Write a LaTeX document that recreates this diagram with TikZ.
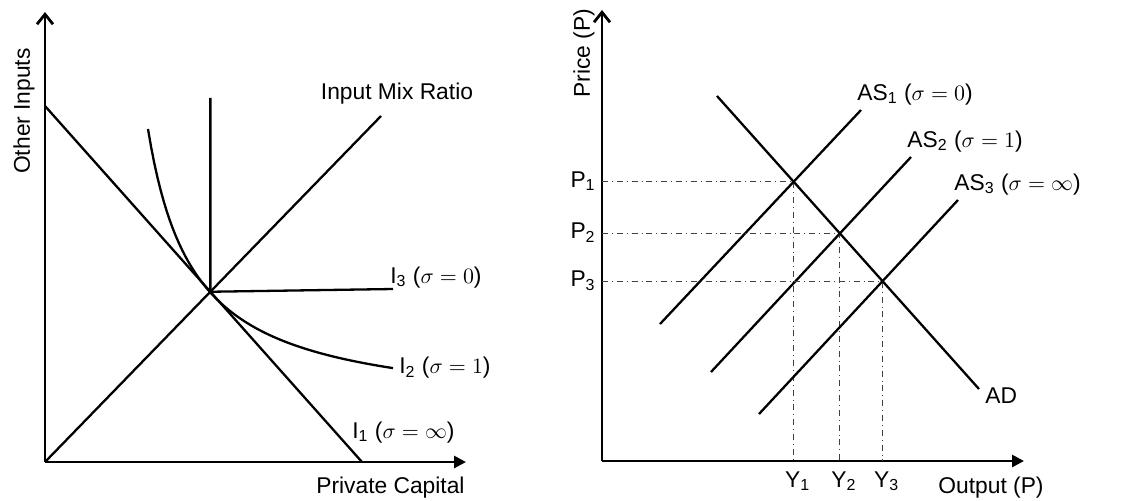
\documentclass[tikz,border=0pt]{standalone}
\usepackage{amsmath,amssymb}
\usepackage{fontspec}
\setmainfont{Liberation Sans}
\usetikzlibrary{arrows.meta}
\usetikzlibrary{positioning}
\usetikzlibrary{calc}

\tikzset{
	axis/.style={line width=1.4pt},
	curve/.style={line width=1.15pt},
	guide/.style={dash dot, line width=0.5pt, black!75},
	lbl/.style={inner sep=0pt, font=\fontsize{11.4}{13.6}\selectfont}
}

\begin{document}
\begin{tikzpicture}[x=0.5pt, y=-0.5pt]
	\useasboundingbox (0,0) rectangle (1121,500);
	% left panel: isoquants
	\coordinate (O1) at (45,462);
	\coordinate (Ytop1) at (45,12);
	\coordinate (Xend1) at (466,462);
	\draw[axis, -{Straight Barb[length=5pt,width=8pt]}] (O1) -- (Ytop1);
	\draw[axis, -{Triangle[length=6pt,width=6pt]}] (O1) -- (Xend1);
	\node[lbl, rotate=90] (oth) at (24,111) {Other Inputs};
	\node[lbl, anchor=base east] (pcap) at (465,493) {Private Capital};

	\coordinate (B1) at (45,106);
	\coordinate (B2) at (362,462);
	\coordinate (R) at (381,116);
	\coordinate (E) at (intersection of B1--B2 and O1--R);
	\draw[curve] (B1) -- (B2);
	\draw[curve] (O1) -- (R);
	\draw[curve] (E) ++(0,-194) coordinate (I3top) -- (E) -- (393,289) coordinate (I3);
	\draw[curve] plot[domain=103:348, samples=80] ({45+\x},{413-13064/(\x-57)}) coordinate (I2);

	\node[lbl, anchor=base] (mix) at (397,99) {Input Mix Ratio};
	\node[lbl, anchor=base west] (i3) at (390,283) {I\textsubscript{3} ($\sigma = 0$)};
	\node[lbl, right=3pt of I2, anchor=mid west] (i2) {I\textsubscript{2} ($\sigma = 1$)};
	\node[lbl, anchor=base west] (i1) at (352,438) {I\textsubscript{1} ($\sigma = \infty$)};

	% right panel: AS-AD
	\coordinate (O2) at (602,461);
	\coordinate (Ytop2) at (602,10);
	\coordinate (Xend2) at (1024,461);
	\draw[axis, -{Straight Barb[length=5pt,width=8pt]}] (O2) -- (Ytop2);
	\draw[axis, -{Triangle[length=6pt,width=6pt]}] (O2) -- (Xend2);
	\node[lbl, rotate=90] (price) at (584,53) {Price (P)};
	\node[lbl, anchor=base west] (out) at (938,493) {Output (P)};

	\coordinate (ADa) at (717,96);
	\coordinate (ADb) at (979,389);
	\coordinate (ASa1) at (660,324);
	\coordinate (ASb1) at (861,110);
	\coordinate (ASa2) at (711,372);
	\coordinate (ASb2) at (911,157);
	\coordinate (ASa3) at (759,414);
	\coordinate (ASb3) at (958,200);

	\foreach \i/\s in {1/0,2/1,3/\infty}
	{
		\draw[curve] (ASa\i) -- (ASb\i);
		\node[lbl, anchor=base west] (as\i) at ($(ASb\i)+(-4,-10)$) {AS\textsubscript{\i} ($\sigma = \s$)};
		\coordinate (E\i) at (intersection of ADa--ADb and ASa\i--ASb\i);
		\coordinate (pl\i) at (O2 |- E\i);
		\coordinate (yl\i) at (E\i |- O2);
		\draw[guide] (pl\i) -- (E\i) -- (yl\i);
		\node[lbl, left=3pt of pl\i, anchor=mid east] (p\i) {P\textsubscript{\i}};
		\node[lbl, below=5pt of yl\i, xshift=2pt] (y\i) {Y\textsubscript{\i}};
	}
	\draw[curve] (ADa) -- (ADb);
	\node[lbl, anchor=base west] (ad) at (985,403) {AD};
\end{tikzpicture}
\end{document}
